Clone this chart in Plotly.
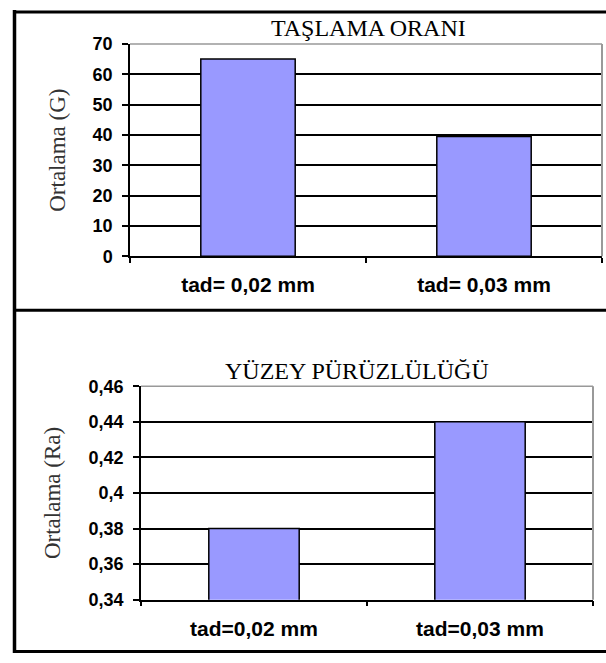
import plotly.graph_objects as go

W, H = 606, 663

# ---- data ----
cats_top = ["tad= 0,02 mm", "tad= 0,03 mm"]
vals_top = [65, 39.5]
title_top = "TAŞLAMA ORANI"
ytitle_top = "Ortalama (G)"
yticks_top = [0, 10, 20, 30, 40, 50, 60, 70]
yticktext_top = ["0", "10", "20", "30", "40", "50", "60", "70"]

cats_bot = ["tad=0,02 mm", "tad=0,03 mm"]
vals_bot = [0.38, 0.44]
title_bot = "YÜZEY PÜRÜZLÜLÜĞÜ"
ytitle_bot = "Ortalama (Ra)"
yticks_bot = [0.34, 0.36, 0.38, 0.40, 0.42, 0.44, 0.46]
yticktext_bot = ["0,34", "0,36", "0,38", "0,4", "0,42", "0,44", "0,46"]

BAR = "#9999FF"
SANS = "Arial, 'Liberation Sans', sans-serif"
SERIF = "'Times New Roman', 'Liberation Serif', serif"


def px(x):
    return x / W


def py(y):
    return 1 - y / H


fig = go.Figure()
fig.add_trace(go.Bar(x=cats_top, y=vals_top, marker=dict(color=BAR, line=dict(color="black", width=1.5)),
                     xaxis="x", yaxis="y", showlegend=False))
fig.add_trace(go.Bar(x=cats_bot, y=vals_bot, marker=dict(color=BAR, line=dict(color="black", width=1.5)),
                     xaxis="x2", yaxis="y2", showlegend=False))

tickfont = dict(family=SANS, size=18, color="black", weight="bold")
xtickfont = dict(family=SANS, size=21, color="black", weight="bold")
ytfont = dict(family=SERIF, size=23, color="#333333")

common_x = dict(type="category", showline=True, linecolor="black", linewidth=1.5, ticks="outside",
                tickson="boundaries", ticklen=5, tickcolor="black", tickwidth=1.5, showgrid=False,
                tickfont=xtickfont, ticklabelstandoff=9, fixedrange=True)
common_y = dict(showline=True, linecolor="black", linewidth=1.5, ticks="outside", ticklen=6,
                tickcolor="black", tickwidth=1.5, showgrid=True, gridcolor="black", gridwidth=1.5,
                zeroline=False, tickfont=tickfont, ticklabelstandoff=6, fixedrange=True)

fig.update_layout(
    width=W, height=H, margin=dict(l=0, r=0, t=0, b=0),
    paper_bgcolor="white", plot_bgcolor="white",
    bargap=0.6,
    xaxis=dict(domain=[px(130), px(602)], anchor="y", **common_x),
    yaxis=dict(domain=[py(254), py(35)], anchor="x", range=[0, 70], tickvals=yticks_top,
               ticktext=yticktext_top,
               title=dict(text=ytitle_top, font=ytfont, standoff=21), **common_y),
    xaxis2=dict(domain=[px(141), px(593)], anchor="y2", **common_x),
    yaxis2=dict(domain=[py(608), py(388)], anchor="x2", range=[0.34, 0.46], tickvals=yticks_bot,
                ticktext=yticktext_bot,
                title=dict(text=ytitle_bot, font=ytfont, standoff=22), **common_y),
)

# chart titles
fig.add_annotation(text=title_top, x=px(368), y=py(19), xref="paper", yref="paper",
                   xanchor="center", yanchor="middle",
                   showarrow=False, font=dict(family=SERIF, size=24, color="black"))
fig.add_annotation(text=title_bot, x=px(357), y=py(372), xref="paper", yref="paper",
                   xanchor="center", yanchor="middle",
                   showarrow=False, font=dict(family=SERIF, size=24, color="black"))

# gray plot-area borders (top and right)
for xr, yr in (("x domain", "y domain"), ("x2 domain", "y2 domain")):
    fig.add_shape(type="line", xref=xr, yref=yr, x0=0, x1=1, y0=1, y1=1,
                  line=dict(color="#999999", width=1.5), layer="above")
    fig.add_shape(type="line", xref=xr, yref=yr, x0=1, x1=1, y0=0, y1=1,
                  line=dict(color="#999999", width=2), layer="above")

# outer black frame lines
frame = dict(color="black", width=3)
fig.add_shape(type="line", xref="paper", yref="paper", x0=px(14.5), x1=px(14.5), y0=0, y1=1,
              line=dict(color="black", width=3.5))
fig.add_shape(type="line", xref="paper", yref="paper", x0=px(13), x1=1, y0=py(2), y1=py(2), line=frame)
fig.add_shape(type="line", xref="paper", yref="paper", x0=px(13), x1=1, y0=py(309.5), y1=py(309.5), line=frame)
fig.add_shape(type="line", xref="paper", yref="paper", x0=px(13), x1=1, y0=py(661.5), y1=py(661.5), line=frame)

fig.write_html("out.html", config={"displayModeBar": False},
               post_script="document.body.style.margin='0';document.body.style.overflow='hidden';")
